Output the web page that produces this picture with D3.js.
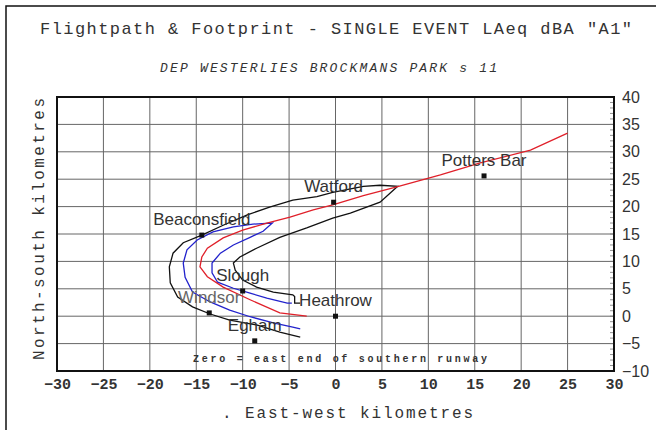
<!DOCTYPE html>
<html><head><meta charset="utf-8">
<script src="https://cdn.jsdelivr.net/npm/d3@7/dist/d3.min.js"></script>
<style>body{margin:0;background:#fff}svg{display:block}</style>
</head><body>
<svg id="c" width="656" height="430"></svg>
<script>
// ---- data (kilometres from the east end of the southern runway) ----
const xTicks = [-30,-25,-20,-15,-10,-5,0,5,10,15,20,25,30];
const yTicks = [-10,-5,0,5,10,15,20,25,30,35,40];
const titleText = 'Flightpath & Footprint - SINGLE EVENT LAeq dBA  "A1"';
const subtitleText = "DEP WESTERLIES BROCKMANS PARK s 11";
const noteText = "Zero = east end of southern runway";
const xTitle = ". East-west kilometres";
const yTitle = "North-south kilometres";

const flightPath = [[-3.1,0.0],[-6.0,0.6],[-9.2,3.0],[-12.1,5.3],[-13.8,7.2],[-14.6,9.0],[-14.4,10.8],
  [-13.8,12.4],[-12.1,14.3],[-10.0,15.7],[-7.4,17.0],[-4.9,18.1],[-2.4,19.4],[-0.3,20.3],[3.0,22.0],
  [6.6,23.6],[11.3,25.8],[15.6,28.0],[21.0,30.3],[25.0,33.4]];

const blackContour = [[-3.8,-3.8],[-6.0,-2.9],[-8.5,-1.6],[-11.4,-0.7],[-13.5,0.4],[-15.4,1.7],[-17.0,3.5],
  [-17.8,6.1],[-17.9,9.0],[-17.5,11.5],[-16.4,13.4],[-14.4,14.8],[-12.1,16.6],[-9.5,18.5],[-7.1,19.9],
  [-4.6,21.2],[-2.0,21.8],[-0.3,22.6],[3.0,23.7],[4.8,23.9],[6.7,23.7],
  [4.8,20.8],[1.6,18.8],[-0.3,17.9],[-3.1,16.1],[-6.0,14.4],[-8.5,12.4],[-10.3,10.8],[-11.0,9.7],
  [-10.8,8.4],[-10.0,6.6],[-8.5,5.3],[-6.7,4.4],[-4.6,3.9],[-4.4,3.6],[-4.4,2.4],[-3.8,2.4]];

const blueContour = [[-3.8,-2.3],[-4.6,-2.0],[-6.7,-1.2],[-9.2,-0.1],[-11.4,1.1],[-13.5,2.6],[-15.4,4.4],
  [-16.2,7.1],[-16.4,9.7],[-16.0,12.1],[-14.9,13.9],[-13.2,15.4],[-11.0,16.3],[-8.9,16.8],[-6.8,17.0],
  [-7.8,15.5],[-9.2,14.4],[-11.0,13.0],[-12.4,11.5],[-13.3,9.7],[-13.3,7.9],[-12.7,6.2],[-11.0,5.1],
  [-9.2,4.2],[-7.4,3.3],[-5.2,2.4],[-4.7,2.4]];

const placeNames = ["Potters Bar","Watford","Beaconsfield","Slough","Windsor","Heathrow","Egham"];
const placeX = [16.0,-0.2,-14.4,-10.0,-13.6,0.0,-8.7];
const placeY = [25.6,20.8,14.8,4.6,0.6,0.0,-4.5];

// ---- drawing ----
const svg = d3.select("#c");
const x = d3.scaleLinear().domain([-30,30]).range([57,614]);
const y = d3.scaleLinear().domain([-10,40]).range([371,97]);

// outer page border (left and top)
svg.append("path").attr("d","M6,430V6H656").attr("fill","none").attr("stroke","#111").attr("stroke-width",1.5);

// titles
svg.append("text").attr("x",40).attr("y",34).attr("textLength",592).attr("lengthAdjust","spacing")
  .attr("font-family","'Liberation Mono',monospace").attr("font-size",17).attr("fill","#333")
  .text(titleText);
svg.append("text").attr("x",160).attr("y",72).attr("textLength",337).attr("lengthAdjust","spacing")
  .attr("font-family","'Liberation Mono',monospace").attr("font-style","italic").attr("font-size",13).attr("fill","#333")
  .text(subtitleText);

// grid
const g = svg.append("g");
g.selectAll("line.v").data(xTicks).join("line")
  .attr("x1",d=>x(d)).attr("x2",d=>x(d)).attr("y1",y(-10)).attr("y2",y(40))
  .attr("stroke","#666").attr("stroke-width",1);
g.selectAll("line.h").data(yTicks).join("line")
  .attr("x1",x(-30)).attr("x2",x(30)).attr("y1",d=>y(d)).attr("y2",d=>y(d))
  .attr("stroke","#666").attr("stroke-width",1);

// minor ticks on right axis
g.selectAll("line.m").data(d3.range(-10,41,1)).join("line")
  .attr("x1",x(30)-4).attr("x2",x(30)).attr("y1",d=>y(d)).attr("y2",d=>y(d))
  .attr("stroke","#777").attr("stroke-width",0.8);

// frame
svg.append("rect").attr("x",x(-30)).attr("y",y(40)).attr("width",x(30)-x(-30)).attr("height",y(-10)-y(40))
  .attr("fill","none").attr("stroke","#111").attr("stroke-width",2);

// axes
const ra = svg.append("g").attr("transform",`translate(${x(30)},0)`)
  .call(d3.axisRight(y).tickValues(yTicks).tickSize(0).tickPadding(8));
ra.select(".domain").remove();
ra.selectAll("text").attr("font-family","'Liberation Sans',Arial,sans-serif").attr("font-size",16).attr("fill","#333");

const ba = svg.append("g").attr("transform",`translate(0,${y(-10)})`)
  .call(d3.axisBottom(x).tickValues(xTicks).tickSize(0).tickPadding(7));
ba.select(".domain").remove();
ba.selectAll("text").attr("font-family","'Liberation Mono',monospace").attr("font-weight","bold")
  .attr("font-size",15).attr("fill","#333");

// axis titles
svg.append("text").attr("x",222).attr("y",418).attr("textLength",251).attr("lengthAdjust","spacing")
  .attr("font-family","'Liberation Mono',monospace").attr("font-size",16).attr("fill","#333").text(xTitle);
svg.append("text").attr("transform","translate(44,360) rotate(-90)").attr("textLength",262).attr("lengthAdjust","spacing")
  .attr("font-family","'Liberation Mono',monospace").attr("font-size",16).attr("fill","#333").text(yTitle);

// note
svg.append("text").attr("x",193).attr("y",362).attr("textLength",294).attr("lengthAdjust","spacing")
  .attr("font-family","'Liberation Mono',monospace").attr("font-weight","bold").attr("font-size",10).attr("fill","#333")
  .text(noteText);

// contours and flight path
const line = d3.line().x(d=>x(d[0])).y(d=>y(d[1]));
svg.append("path").attr("d",line(blackContour)).attr("fill","none").attr("stroke","#111").attr("stroke-width",1.3);
svg.append("path").attr("d",line(blueContour)).attr("fill","none").attr("stroke","#2222cc").attr("stroke-width",1.3);
svg.append("path").attr("d",line(flightPath)).attr("fill","none").attr("stroke","#e0202a").attr("stroke-width",1.3);

// places
const places = placeNames.map((n,i)=>({name:n,x:placeX[i],y:placeY[i]}));
svg.selectAll("rect.p").data(places).join("rect")
  .attr("x",d=>x(d.x)-2.5).attr("y",d=>y(d.y)-2.5).attr("width",5).attr("height",5).attr("fill","#111");
svg.selectAll("text.p").data(places).join("text")
  .attr("x",d=>x(d.x)).attr("y",d=>y(d.y)-10).attr("text-anchor","middle")
  .attr("font-family","'Liberation Sans',Arial,sans-serif").attr("font-size",17)
  .attr("fill",d=>d.name==="Windsor"?"#666":"#333")
  .text(d=>d.name);
</script>
</body></html>
